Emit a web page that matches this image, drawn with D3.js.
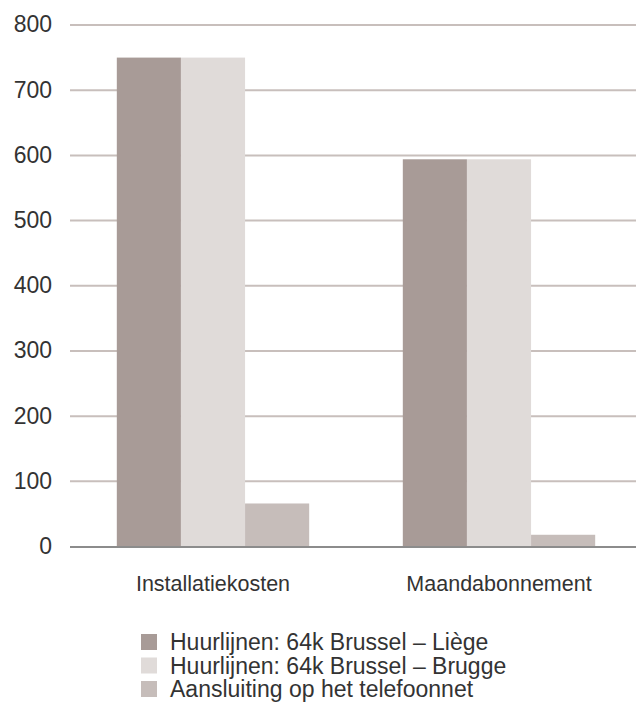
<!DOCTYPE html>
<html>
<head>
<meta charset="utf-8">
<script src="https://cdn.jsdelivr.net/npm/d3@7"></script>
<style>
  html, body { margin: 0; padding: 0; background: #ffffff; }
  svg { display: block; font-family: "Liberation Sans", Arial, sans-serif; }
</style>
</head>
<body>
<svg id="chart" width="636" height="713"></svg>
<script>
// Cost categories on the x axis
const categories = ["Installatiekosten", "Maandabonnement"];

// Series names (legend) and their values per category
const seriesNames = [
  "Huurlijnen: 64k Brussel \u2013 Li\u00e8ge",
  "Huurlijnen: 64k Brussel \u2013 Brugge",
  "Aansluiting op het telefoonnet"
];
const lieges = [750, 594];
const brugges = [750, 594];
const telefoonnet = [66, 18];

const yTicks = [0, 100, 200, 300, 400, 500, 600, 700, 800];
const colors = ["#a89b97", "#e0dbd9", "#c6bdba"];

const seriesValues = [lieges, brugges, telefoonnet];
const rows = categories.map((c, i) => ({
  category: c,
  values: seriesValues.map((s, k) => ({ key: k, value: s[i] }))
}));

const svg = d3.select("#chart");
const plot = { left: 70, right: 642, top: 25, bottom: 546.5 };

const y = d3.scaleLinear().domain([0, 800]).range([plot.bottom, plot.top]);
const x0 = d3.scaleBand().domain(categories).range([plot.left, plot.right]).padding(0);
const x1 = d3.scaleBand().domain(d3.range(seriesNames.length))
  .range([0, x0.bandwidth()]).paddingInner(0).paddingOuter(0.73);

// Horizontal gridlines
svg.append("g")
  .selectAll("line")
  .data(yTicks.filter(t => t > 0))
  .join("line")
  .attr("x1", plot.left).attr("x2", 636)
  .attr("y1", d => y(d)).attr("y2", d => y(d))
  .attr("stroke", "#c8bfbc").attr("stroke-width", 2);

// Y tick labels
const yAxis = d3.axisLeft(y).tickValues(yTicks).tickSize(0).tickPadding(0);
const gy = svg.append("g").attr("transform", "translate(52,0)").call(yAxis);
gy.select(".domain").remove();
gy.selectAll("text")
  .attr("font-size", 23)
  .attr("fill", "#333333")
  .attr("dy", "0.3em")
  .attr("font-family", "Liberation Sans, Arial, sans-serif");

// Bars
svg.append("g")
  .selectAll("g")
  .data(rows)
  .join("g")
  .attr("transform", d => `translate(${x0(d.category)},0)`)
  .selectAll("rect")
  .data(d => d.values)
  .join("rect")
  .attr("x", d => x1(d.key))
  .attr("width", x1.bandwidth())
  .attr("y", d => y(d.value))
  .attr("height", d => y(0) - y(d.value))
  .attr("fill", d => colors[d.key]);

// Baseline
svg.append("line")
  .attr("x1", plot.left).attr("x2", 636)
  .attr("y1", y(0) + 0.5).attr("y2", y(0) + 0.5)
  .attr("stroke", "#8c8c8c").attr("stroke-width", 2);

// Category labels
const xAxis = d3.axisBottom(x0).tickSize(0).tickPadding(0);
const gx = svg.append("g").attr("transform", `translate(0,${plot.bottom + 44})`).call(xAxis);
gx.select(".domain").remove();
gx.selectAll("text")
  .attr("font-size", 21.5)
  .attr("fill", "#333333")
  .attr("dy", "0")
  .attr("font-family", "Liberation Sans, Arial, sans-serif");

// Legend
const legend = svg.append("g").attr("transform", "translate(141,634)");
const item = legend.selectAll("g")
  .data(seriesNames)
  .join("g")
  .attr("transform", (d, i) => `translate(0,${i * 23.5})`);
item.append("rect")
  .attr("x", 0).attr("y", 0).attr("width", 16).attr("height", 16)
  .attr("fill", (d, i) => colors[i]);
item.append("text")
  .attr("x", 29).attr("y", 8).attr("dy", "0.36em")
  .attr("font-size", 23)
  .attr("fill", "#333333")
  .text(d => d);
</script>
</body>
</html>
